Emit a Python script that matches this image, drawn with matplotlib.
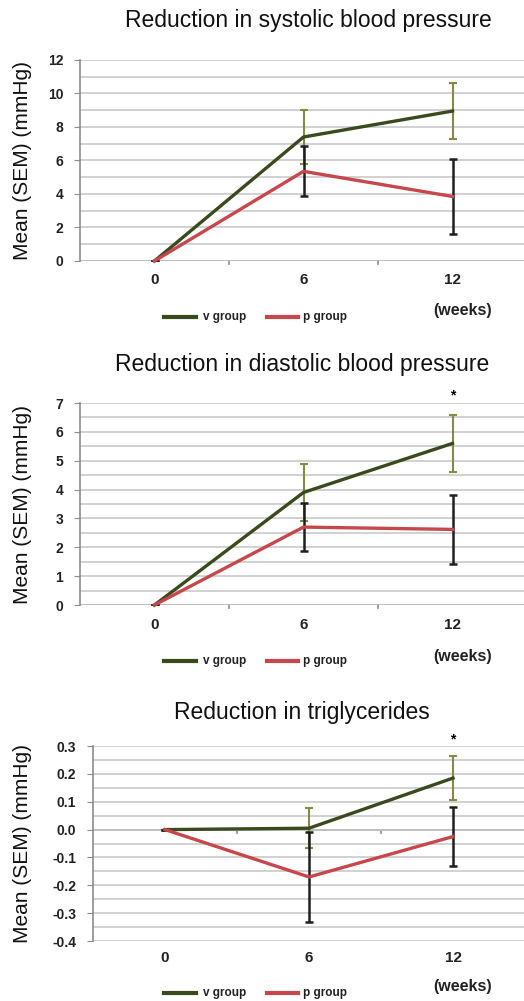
import matplotlib.pyplot as plt
from matplotlib.ticker import MultipleLocator, FormatStrFormatter

plt.rcParams['font.family'] = ['Liberation Sans', 'DejaVu Sans']

# ----------------------------
# Data
# ----------------------------
weeks = ["0", "6", "12"]

sbp_v = [0, 7.4, 8.95]
sbp_v_err = [0, 1.6, 1.67]
sbp_p = [0, 5.35, 3.85]
sbp_p_err = [0, 1.5, 2.25]

dbp_v = [0, 3.9, 5.6]
dbp_v_err = [0, 1.0, 1.0]
dbp_p = [0, 2.7, 2.62]
dbp_p_err = [0, 0.82, 1.2]

tg_v = [0, 0.005, 0.185]
tg_v_err = [0, 0.072, 0.08]
tg_p = [0, -0.17, -0.025]
tg_p_err = [0, 0.16, 0.105]

titles = ["Reduction in systolic blood pressure",
          "Reduction in diastolic blood pressure",
          "Reduction in triglycerides"]

V_COL = "#3b4a1d"
P_COL = "#c6474c"
V_ERR = "#858a45"
P_ERR = "#1e1e1e"
GRID = "#c9c9c9"
AXC = "#8c8c8c"

W, H = 524, 1001
fig = plt.figure(figsize=(W / 100, H / 100), dpi=100)

# (left px, width px, bottom frac, height frac, ymin, ymax, major, minor, fmt, star_y)
panels = [
    (80, 447, 0.7393, 0.2008, 0, 12, 2, 1, "%.0f", None),
    (80, 447, 0.3956, 0.2018, 0, 7, 1, 0.5, "%.0f", 7.25),
    (93, 432, 0.0599, 0.1948, -0.4, 0.3, 0.1, 0.05, "%.1f", 0.325),
]
series = [
    (sbp_v, sbp_v_err, sbp_p, sbp_p_err),
    (dbp_v, dbp_v_err, dbp_p, dbp_p_err),
    (tg_v, tg_v_err, tg_p, tg_p_err),
]
title_x = [308, 302, 302]
title_y = [20, 365, 712]
xlab_y = [280, 625, 958]
leg_y = [317, 661, 993]
weeks_y = [310, 656, 987]

for i, (lpx, wpx, bottom, height, ymin, ymax, major, minor, fmt, star_y) in enumerate(panels):
    ax = fig.add_axes([lpx / W, bottom, wpx / W, height])
    v, ve, p, pe = series[i]
    x = range(len(weeks))

    ax.set_xlim(-0.5, 2.5)
    ax.set_ylim(ymin, ymax)

    # gridlines (major and minor)
    ax.yaxis.set_major_locator(MultipleLocator(major))
    ax.yaxis.set_minor_locator(MultipleLocator(minor))
    ax.yaxis.set_major_formatter(FormatStrFormatter(fmt))
    ax.grid(True, axis="y", which="both", color=GRID, linewidth=1.2, zorder=0)
    ax.tick_params(axis="y", which="major", length=4, color=AXC, pad=8,
                   labelsize=10, labelcolor="#222222")
    ax.tick_params(axis="y", which="minor", length=0)
    for lbl in ax.get_yticklabels():
        lbl.set_fontweight("bold")

    for s in ["top", "right", "bottom"]:
        ax.spines[s].set_visible(False)
    ax.spines["left"].set_color(AXC)
    ax.spines["left"].set_linewidth(1.2)

    # category axis line at y=0
    ax.axhline(0, color=AXC, linewidth=1.4, zorder=1)
    ax.set_xticks([])
    for b in [0.5, 1.5]:
        ax.plot([b, b], [0, -(ymax - ymin) * 0.015], color=AXC, lw=1.2,
                clip_on=False, zorder=1)

    ax.errorbar(x, v, yerr=ve, fmt="none", ecolor=V_ERR, elinewidth=1.5,
                capsize=3, capthick=1.5, zorder=2)
    ax.errorbar(x, p, yerr=pe, fmt="none", ecolor=P_ERR, elinewidth=1.8,
                capsize=3, capthick=1.8, zorder=3)
    ax.plot(x, v, color=V_COL, linewidth=2.4, zorder=4, clip_on=False)
    ax.plot(x, p, color=P_COL, linewidth=2.4, zorder=4, clip_on=False)

    if star_y is not None:
        ax.text(2, star_y, "*", ha="center", va="center", fontsize=10,
                fontweight="bold", clip_on=False)

    # x category labels
    for k, w in enumerate(weeks):
        xp = ax.transData.transform((k, 0))[0] / fig.bbox.width
        fig.text(xp, 1 - xlab_y[i] / H, w, ha="center", va="center",
                 fontsize=11, fontweight="bold", color="#222222")

    fig.text(title_x[i] / W, 1 - title_y[i] / H, titles[i], ha="center",
             va="center", fontsize=16.5, color="#111111")
    fig.text(0.042, bottom + height / 2, "Mean (SEM) (mmHg)", rotation=90,
             ha="center", va="center", fontsize=15, color="#111111")
    fig.text(463 / W, 1 - weeks_y[i] / H, "(weeks)", ha="center", va="center",
             fontsize=11.5, fontweight="bold", color="#222222")

    # legend
    ly = 1 - leg_y[i] / H
    fig.add_artist(plt.Line2D([164 / W, 196 / W], [ly, ly], color=V_COL, lw=3))
    fig.text(203 / W, ly, "v group", ha="left", va="center", fontsize=8.5,
             fontweight="bold", color="#222222")
    fig.add_artist(plt.Line2D([267 / W, 298 / W], [ly, ly], color=P_COL, lw=3))
    fig.text(303 / W, ly, "p group", ha="left", va="center", fontsize=8.5,
             fontweight="bold", color="#222222")

fig.savefig("out.png", dpi=100)
